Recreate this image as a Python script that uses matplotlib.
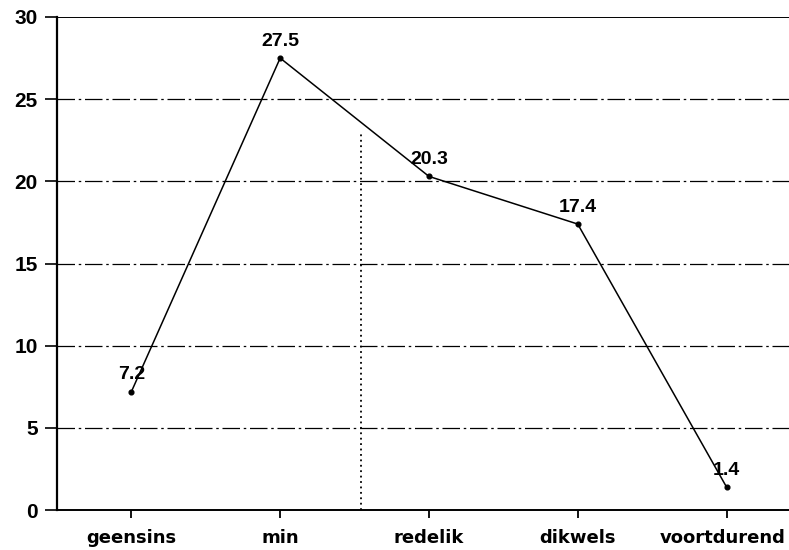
import matplotlib
matplotlib.use("Agg")
import matplotlib.pyplot as plt
from matplotlib.transforms import ScaledTranslation

categories = ["geensins", "min", "redelik", "dikwels", "voortdurend"]
values = [7.2, 27.5, 20.3, 17.4, 1.4]
value_labels = ["7.2", "27.5", "20.3", "17.4", "1.4"]
y_ticks = [0, 5, 10, 15, 20, 25, 30]
divider_x = 1.54
divider_top = 23

plt.rcParams['font.family'] = ['Liberation Sans', 'DejaVu Sans']

fig = plt.figure(figsize=(7.89, 5.5), dpi=100)
ax = fig.add_axes([57/789, 1 - 510/550, 1 - 57/789, (510 - 17)/550])

x = list(range(len(categories)))
ax.plot(x, values, color='black', linewidth=1.1, marker='o', markersize=3.4, zorder=3)
for xi, v, lab in zip(x, values, value_labels):
    ax.annotate(lab, (xi, v), xytext=(0, 6), textcoords='offset points',
                ha='center', va='bottom', fontsize=14, fontweight='bold')

for t in y_ticks[1:-1]:
    ax.axhline(t, color='black', linewidth=0.9, linestyle=(0, (14, 3, 2, 3)), zorder=1)
ax.axhline(30, color='black', linewidth=1.4, zorder=2)
ax.plot([divider_x, divider_x], [0, divider_top], color='black', linewidth=1.3,
        linestyle=(0, (1, 2)), zorder=2)

ax.set_xlim(-0.5, 4.42)
ax.set_ylim(0, 30)
ax.set_yticks(y_ticks)
ax.set_xticks(x)
ax.set_xticklabels(categories)
for sp in ['top', 'right']:
    ax.spines[sp].set_visible(False)
ax.spines['left'].set_linewidth(1.6)
ax.spines['bottom'].set_linewidth(1.4)
ax.tick_params(axis='y', length=9, width=1.2, labelsize=15, pad=5)
ax.tick_params(axis='x', length=6, width=1.3, labelsize=13, pad=8)
for lbl in ax.get_yticklabels():
    lbl.set_fontweight('bold')
xl = ax.get_xticklabels()
for lbl in xl:
    lbl.set_fontweight('bold')
    lbl.set_fontfamily('DejaVu Sans')
xl[-1].set_transform(xl[-1].get_transform() + ScaledTranslation(-4/100, 0, fig.dpi_scale_trans))

fig.savefig("out.png", dpi=100)
